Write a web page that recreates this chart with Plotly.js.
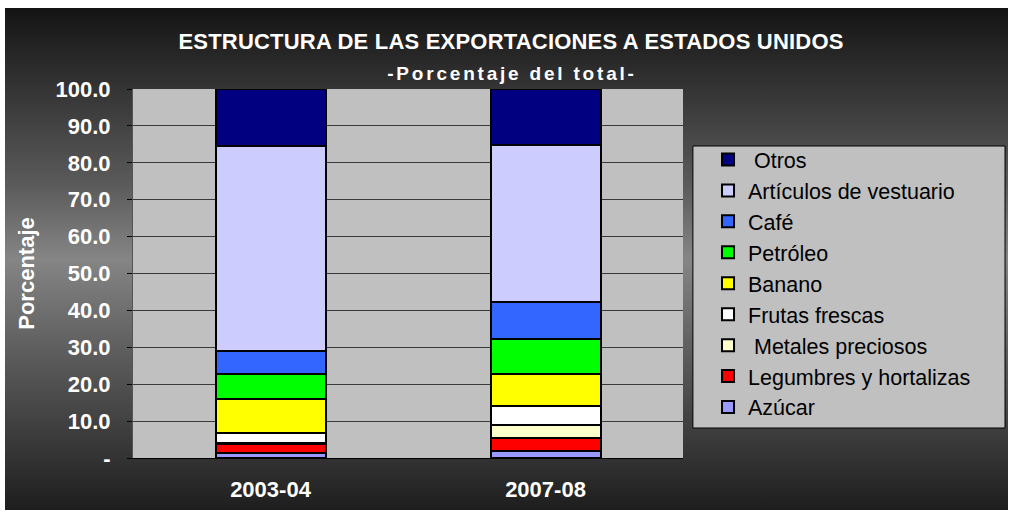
<!DOCTYPE html>
<html>
<head>
<meta charset="utf-8">
<script src="https://cdn.plot.ly/plotly-3.0.1.min.js"></script>
<style>
  html, body { margin: 0; padding: 0; background: #ffffff; }
  #frame {
    position: absolute; left: 5px; top: 8px; width: 1003px; height: 502px;
    background: linear-gradient(to bottom, #141414 0%, #5a5a5a 35%, #858585 50%, #5a5a5a 70%, #1e1e1e 100%);
  }
  #myDiv { position: absolute; left: 0; top: 0; width: 1012px; height: 512px; }
  /* espaciado de letras como en el original */
  #myDiv .annotation-text { letter-spacing: 2.8px; }
  #myDiv .gtitle { letter-spacing: 0.2px; }
</style>
</head>
<body>
<div id="frame"></div>
<div id="myDiv"></div>
<script>
// Periodos
const periodos = ["2003-04", "2007-08"];

// Participación de cada producto (% del total), de abajo hacia arriba
const azucar = [1.3, 1.9];
const legumbres = [2.4, 3.6];
const metales = [0.3, 3.4];
const frutas = [2.7, 5.2];
const banano = [9.3, 8.7];
const petroleo = [6.8, 9.4];
const cafe = [6.2, 10.2];
const vestuario = [55.6, 42.3];
const otros = [15.4, 15.3];

const nombres = ["Azúcar", "Legumbres y hortalizas", " Metales preciosos", "Frutas frescas",
  "Banano", "Petróleo", "Café", "Artículos de vestuario", " Otros"];
const colores = ["#9999FF", "#FF0000", "#FFFFCC", "#FFFFFF", "#FFFF00", "#00FF00", "#3366FF", "#CCCCFF", "#000080"];
const series = [azucar, legumbres, metales, frutas, banano, petroleo, cafe, vestuario, otros];

const yTicks = [0, 10, 20, 30, 40, 50, 60, 70, 80, 90, 100];
const yTickText = ["-", "10.0", "20.0", "30.0", "40.0", "50.0", "60.0", "70.0", "80.0", "90.0", "100.0"];

const data = series.map((vals, i) => ({
  type: "bar",
  name: nombres[i],
  x: periodos,
  y: vals,
  legendrank: series.length - i, // Otros arriba en la leyenda
  marker: { color: colores[i], line: { color: "#000000", width: 2 } },
  hoverinfo: "name+y",
}));

const layout = {
  width: 1012,
  height: 512,
  barmode: "stack",
  bargap: 0.6,
  paper_bgcolor: "rgba(0,0,0,0)",
  plot_bgcolor: "#C0C0C0",
  margin: { l: 133, r: 329, t: 89, b: 54 },
  font: { family: "Liberation Sans, Arial, sans-serif", color: "#ffffff" },
  title: {
    text: "<b>ESTRUCTURA DE LAS EXPORTACIONES A ESTADOS UNIDOS</b>",
    font: { size: 22, color: "#ffffff" },
    x: 0.505, xanchor: "center",
    y: 0.92, yanchor: "middle",
  },
  annotations: [{
    text: "<b>-Porcentaje del total-</b>",
    xref: "paper", yref: "paper",
    x: 0.689, y: 1.041, xanchor: "center", yanchor: "middle",
    showarrow: false,
    font: { size: 19, color: "#ffffff" },
  }],
  // caja de la leyenda
  shapes: [{
    type: "rect", xref: "paper", yref: "paper", layer: "below",
    x0: 1.018, x1: 1.5855, y0: 0.0813, y1: 0.8455,
    fillcolor: "#C0C0C0", line: { color: "#000000", width: 1 },
  }],
  xaxis: {
    type: "category",
    showgrid: false,
    showline: true, linecolor: "#000000", linewidth: 1,
    tickfont: { size: 22, color: "#ffffff", weight: "bold" },
    ticks: "",
    ticklabelstandoff: 12,
  },
  yaxis: {
    range: [0, 100],
    tickvals: yTicks,
    ticktext: yTickText,
    tickfont: { size: 22, color: "#ffffff", weight: "bold" },
    ticks: "outside", ticklen: 5, tickcolor: "#000000",
    ticklabelstandoff: 12,
    showline: true, linecolor: "#555555", linewidth: 1,
    showgrid: true, gridcolor: "#3a3a3a", gridwidth: 1,
    zeroline: false,
    title: { text: "<b>Porcentaje</b>", font: { size: 22, color: "#ffffff" }, standoff: 14 },
  },
  legend: {
    x: 1.0455, xanchor: "left",
    y: 0.8645, yanchor: "top",
    bgcolor: "rgba(0,0,0,0)",
    borderwidth: 0,
    font: { size: 21.5, color: "#000000" },
    traceorder: "normal",
    itemwidth: 30,
  },
  showlegend: true,
};

Plotly.newPlot("myDiv", data, layout, { displayModeBar: false });
</script>
</body>
</html>
